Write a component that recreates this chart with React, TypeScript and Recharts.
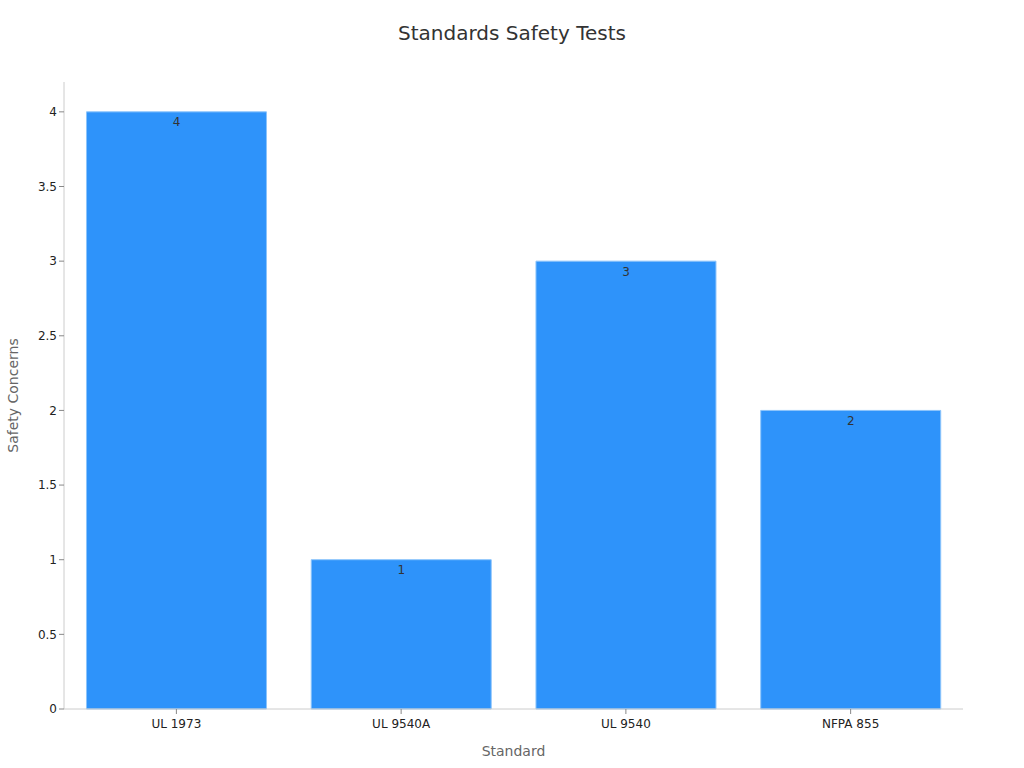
import React from "react";
import { BarChart, Bar, XAxis, YAxis, LabelList } from "recharts";

const standards = ["UL 1973", "UL 9540A", "UL 9540", "NFPA 855"];
const safetyConcerns = [4, 1, 3, 2];
const yTicks = [0, 0.5, 1, 1.5, 2, 2.5, 3, 3.5, 4];

const data = standards.map((name, i) => ({ name, value: safetyConcerns[i] }));

const FONT = "'DejaVu Sans', sans-serif";

export default function App() {
  return (
    <div style={{ position: "absolute", top: 0, left: 0, width: 1024, height: 768, background: "#fff", fontFamily: FONT }}>
      <div
        style={{
          position: "absolute",
          top: 21,
          left: 0,
          width: 1024,
          textAlign: "center",
          fontSize: 20,
          color: "#333",
        }}
      >
        Standards Safety Tests
      </div>
      <BarChart
        width={1024}
        height={768}
        data={data}
        margin={{ top: 82, right: 61, bottom: 0, left: 0 }}
        barCategoryGap="10%"
      >
        <XAxis
          dataKey="name"
          height={59}
          stroke="#ccc"
          tickSize={5}
          tick={{ fill: "#222", fontSize: 12, fontFamily: FONT, dy: 3 }}
          tickLine={{ stroke: "#888" }}
          label={{
            value: "Standard",
            position: "insideBottom",
            offset: 12,
            style: { fill: "#666", fontSize: 14, fontFamily: FONT },
          }}
        />
        <YAxis
          width={64}
          domain={[0, 4.2]}
          ticks={yTicks}
          stroke="#ccc"
          tickSize={5}
          tick={{ fill: "#222", fontSize: 12, fontFamily: FONT }}
          tickLine={{ stroke: "#888" }}
          label={{
            value: "Safety Concerns",
            angle: -90,
            position: "insideLeft",
            offset: 13,
            style: { textAnchor: "middle", fill: "#666", fontSize: 14, fontFamily: FONT },
          }}
        />
        <Bar dataKey="value" fill="#2E93FA" stroke="#8cc4fb" strokeWidth={1} isAnimationActive={false}>
          <LabelList
            dataKey="value"
            position="insideTop"
            offset={6}
            style={{ fill: "#333", fontSize: 12, fontFamily: FONT }}
          />
        </Bar>
      </BarChart>
    </div>
  );
}
